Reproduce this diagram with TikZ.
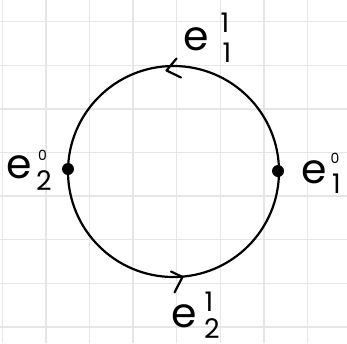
\documentclass[tikz,border=0pt]{standalone}
\usepackage{fontspec}
\setmainfont{Poppins}
\definecolor{gridgray}{HTML}{E6E6E6}
\tikzset{
  gridline/.style={draw=gridgray, line width=1.4pt},
  curve/.style={draw=black, line width=2.2pt},
  chevron/.style={draw=black, line width=2.2pt, line cap=round, line join=round},
  vertexdot/.style={circle, fill=black, inner sep=0pt, minimum size=12pt},
  base/.style={inner sep=0pt, anchor=base west, font=\fontsize{41}{41}\selectfont},
  idx/.style={inner sep=0pt, anchor=base, font=\fontsize{27}{27}\selectfont},
  dim/.style={inner sep=0pt, anchor=base, font=\fontsize{14}{14}\selectfont},
}
\begin{document}
\begin{tikzpicture}[x=1pt,y=-1pt]
\useasboundingbox (0,0) rectangle (347,343);
\fill[white] (0,0) rectangle (347,343);
% grid
\foreach \i in {0,...,7} {
  \draw[gridline] (2.3+43.6*\i,0) -- (2.3+43.6*\i,343);
  \draw[gridline] (0,21.7+43.6*\i) -- (347,21.7+43.6*\i);
}
% circle
\coordinate (c) at (173.5,171.5);
\draw[curve] (c) circle[radius=105.5];
% vertices
\node[vertexdot] (v2) at (68,169) {};
\node[vertexdot] (v1) at (278,171) {};
% arrow chevrons
\coordinate (ttip) at (166.5,70.5);
\draw[chevron] (176.5,58.5) -- (ttip) -- (181,77.5);
\coordinate (btip) at (182.5,277);
\draw[chevron] (171,271.5) -- (btip) -- (174.5,292.5);
% label e^1_1 (top)
\node[base] (e11) at (183,50) {e};
\node[idx] (e11sup) at (225,32) {1};
\node[idx] (e11sub) at (227,62) {1};
% label e^0_2 (left)
\node[base] (e20) at (6,178) {e};
\node[dim] (e20sup) at (42.5,160) {0};
\node[idx] (e20sub) at (44,190) {2};
% label e^0_1 (right)
\node[base] (e10) at (301,183) {e};
\node[dim] (e10sup) at (335,163) {0};
\node[idx] (e10sub) at (336.5,193) {1};
% label e^1_2 (bottom)
\node[base] (e21) at (171,327) {e};
\node[idx] (e21sup) at (209,311) {1};
\node[idx] (e21sub) at (212,338.5) {2};
\end{tikzpicture}
\end{document}
